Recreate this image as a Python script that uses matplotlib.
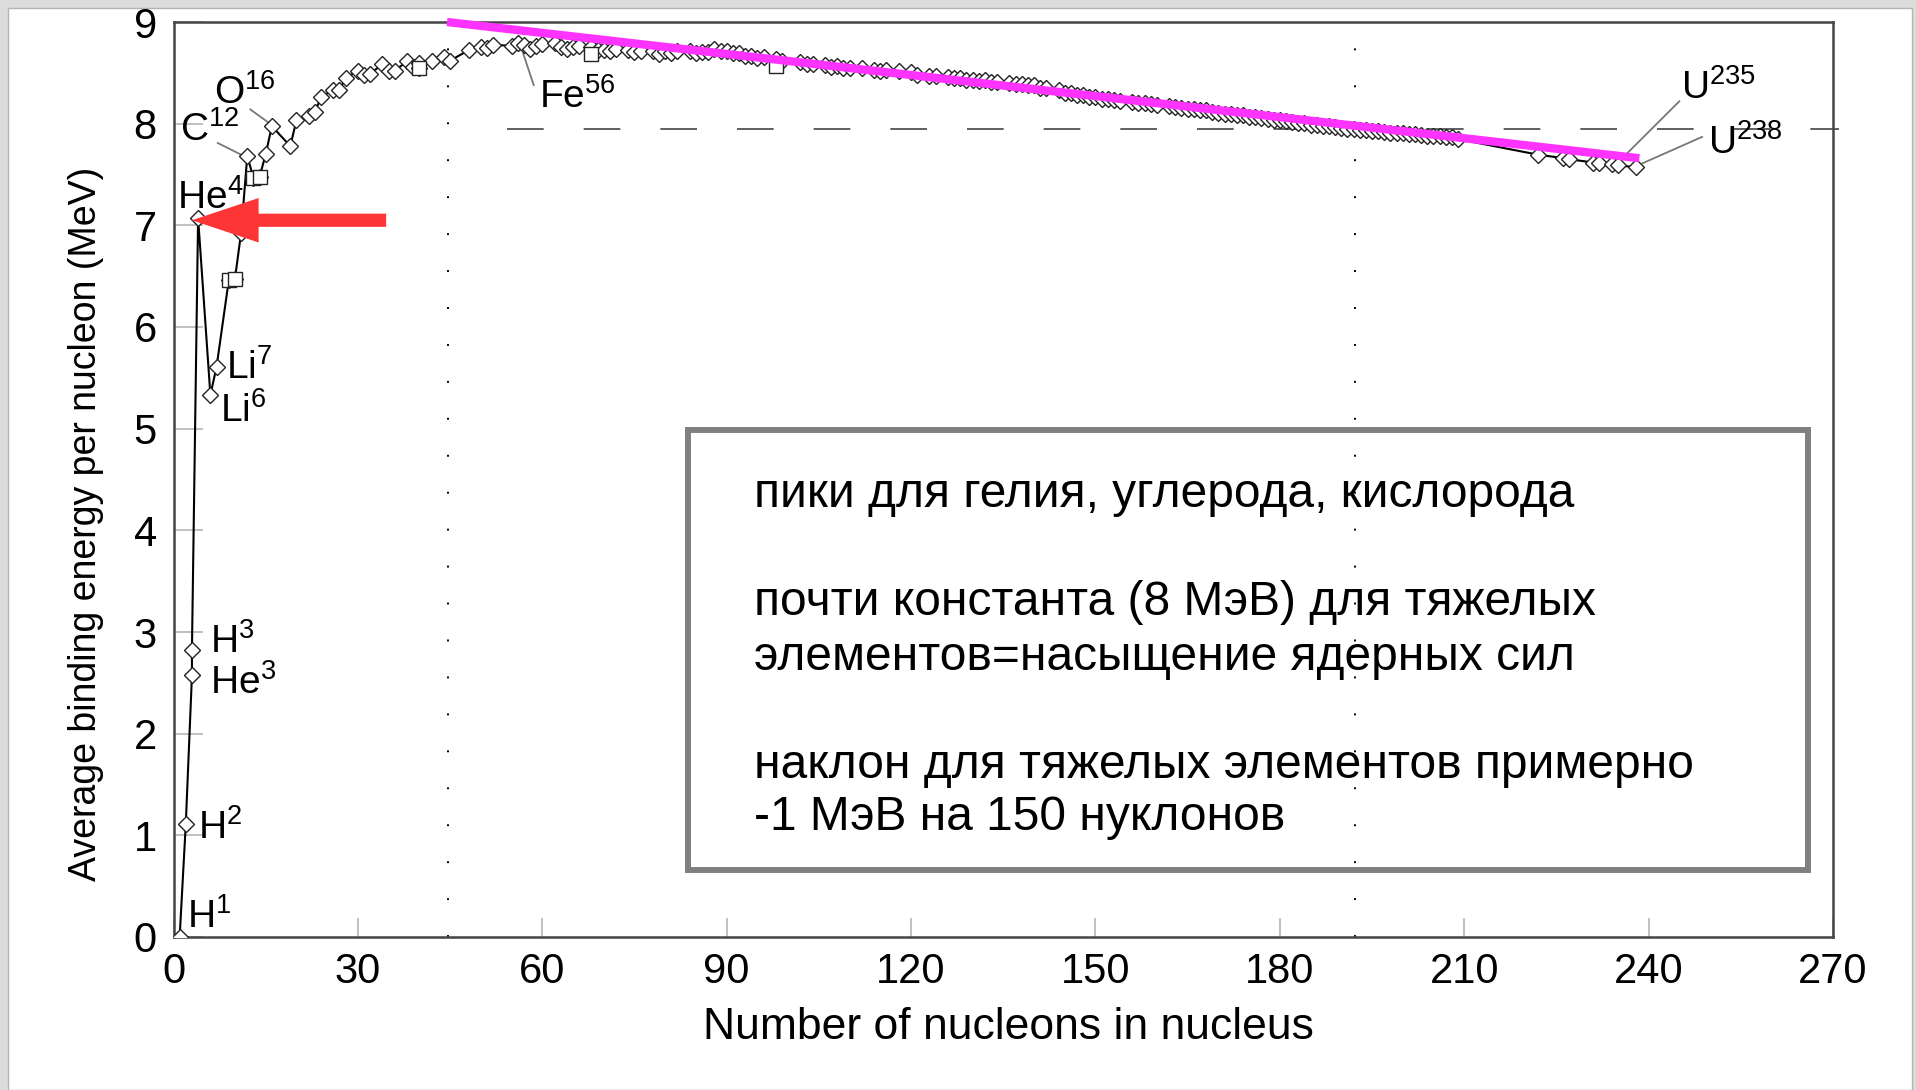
import matplotlib
matplotlib.use("Agg")
import matplotlib.pyplot as plt
from matplotlib.patches import Rectangle, FancyArrowPatch, ArrowStyle

plt.rcParams["font.family"] = ["Liberation Sans", "DejaVu Sans"]
plt.rcParams["mathtext.fontset"] = "custom"
plt.rcParams["mathtext.rm"] = "Liberation Sans"

# --- data: mass number A and average binding energy per nucleon (MeV) ---
mass_numbers = [1, 2, 3, 3, 4, 6, 7, 9, 10, 11, 12, 13, 14, 15, 16, 19, 20, 22,
                23, 24, 26, 27, 28, 30, 31, 32, 34, 35, 36, 38, 39, 40, 40, 42,
                44, 45, 48, 50, 51, 52, 55, 56, 57, 58, 59, 60, 62, 63, 64, 65,
                66, 68, 69, 70, 71, 72, 74, 75, 76, 78, 79, 80, 81, 82, 84, 85,
                86, 87, 88, 89, 90, 91, 92, 93, 94, 95, 96, 98, 99, 102, 103,
                104, 106, 107, 108, 109, 110, 112, 114, 115, 116, 118, 120, 121,
                123, 124, 126, 127, 128, 129, 130, 131, 132, 133, 134, 136, 137,
                138, 139, 140, 141, 142, 144, 145, 146, 147, 148, 149, 150, 151,
                152, 153, 154, 156, 157, 158, 159, 160, 162, 163, 164, 165, 166,
                167, 168, 169, 170, 171, 172, 173, 174, 175, 176, 177, 178, 179,
                180, 181, 182, 183, 184, 185, 186, 187, 188, 189, 190, 191, 192,
                193, 194, 195, 196, 197, 198, 199, 200, 201, 202, 203, 204, 205,
                206, 207, 208, 209, 222, 226, 227, 231, 232, 234, 235, 238]
binding_energy = [0.0, 1.112, 2.573, 2.827, 7.074, 5.332, 5.606, 6.463, 6.475,
                  6.928, 7.680, 7.470, 7.476, 7.699, 7.976, 7.779, 8.032, 8.080,
                  8.112, 8.261, 8.334, 8.332, 8.448, 8.521, 8.481, 8.493, 8.584,
                  8.520, 8.520, 8.614, 8.557, 8.551, 8.595, 8.617, 8.658, 8.619,
                  8.723, 8.756, 8.742, 8.776, 8.765, 8.790, 8.770, 8.732, 8.768,
                  8.781, 8.795, 8.752, 8.736, 8.757, 8.760, 8.756, 8.724, 8.722,
                  8.718, 8.732, 8.725, 8.701, 8.711, 8.718, 8.688, 8.711, 8.696,
                  8.711, 8.717, 8.698, 8.708, 8.705, 8.733, 8.714, 8.710, 8.693,
                  8.693, 8.664, 8.667, 8.649, 8.654, 8.635, 8.614, 8.607, 8.584,
                  8.587, 8.580, 8.554, 8.567, 8.548, 8.551, 8.545, 8.532, 8.517,
                  8.523, 8.517, 8.505, 8.482, 8.472, 8.473, 8.463, 8.445, 8.449,
                  8.431, 8.430, 8.424, 8.428, 8.410, 8.414, 8.403, 8.392, 8.393,
                  8.378, 8.376, 8.354, 8.346, 8.327, 8.303, 8.304, 8.281, 8.280,
                  8.263, 8.262, 8.239, 8.244, 8.229, 8.225, 8.215, 8.204, 8.202,
                  8.189, 8.184, 8.174, 8.162, 8.159, 8.147, 8.142, 8.132, 8.130,
                  8.115, 8.106, 8.098, 8.097, 8.087, 8.084, 8.069, 8.061, 8.052,
                  8.049, 8.039, 8.035, 8.023, 8.018, 8.008, 8.005, 7.991, 7.989,
                  7.974, 7.973, 7.963, 7.962, 7.948, 7.949, 7.938, 7.936, 7.927,
                  7.927, 7.916, 7.912, 7.905, 7.906, 7.897, 7.897, 7.886, 7.880,
                  7.878, 7.875, 7.870, 7.868, 7.848, 7.695, 7.662, 7.651, 7.618,
                  7.615, 7.600, 7.591, 7.570]
# points drawn as squares instead of diamonds
square_mass = [9, 10, 13, 14, 40, 68, 98]
square_energy = [6.463, 6.475, 7.470, 7.476, 8.551, 8.690, 8.570]

x_ticks = [0, 30, 60, 90, 120, 150, 180, 210, 240, 270]
y_ticks = [0, 1, 2, 3, 4, 5, 6, 7, 8, 9]

# isotope labels: text, text position, optional leader line target
iso_labels = [r"$\mathregular{H^1}$", r"$\mathregular{H^2}$", r"$\mathregular{H^3}$",
              r"$\mathregular{He^3}$", r"$\mathregular{He^4}$", r"$\mathregular{Li^7}$",
              r"$\mathregular{Li^6}$", r"$\mathregular{C^{12}}$", r"$\mathregular{O^{16}}$",
              r"$\mathregular{Fe^{56}}$", r"$\mathregular{U^{235}}$", r"$\mathregular{U^{238}}$"]
iso_text_x = [2.2, 4.0, 6.0, 6.0, 0.6, 8.5, 7.6, 1.0, 6.6, 59.4, 245.3, 249.7]
iso_text_y = [0.2, 1.07, 2.9, 2.5, 7.27, 5.6, 5.17, 7.94, 8.3, 8.26, 8.35, 7.81]
leader_from = [(7.2, 7.81), (12.5, 8.14), (56.9, 8.69), (245.0, 8.22), (248.7, 7.87)]
leader_to = [(11.5, 7.68), (15.7, 8.0), (58.6, 8.38), (236.2, 7.69), (239.0, 7.61)]

trend_x = [44.5, 238.5]
trend_y = [9.0, 7.66]

box_lines = ["пики для гелия, углерода, кислорода",
             "почти константа (8 МэВ) для тяжелых",
             "элементов=насыщение ядерных сил",
             "наклон для тяжелых элементов примерно",
             "-1 МэВ на 150 нуклонов"]
box_line_y = [4.35, 3.29, 2.75, 1.69, 1.175]

fig = plt.figure(figsize=(19.16, 10.90), dpi=100)
fig.patch.set_facecolor("#dcdcdc")
fig.add_artist(Rectangle((8 / 1916, 0), 1904 / 1916, 1082 / 1090,
                         transform=fig.transFigure, facecolor="white",
                         edgecolor="#b4b4b4", lw=1, zorder=-10))

ax = fig.add_axes([173.5 / 1916, 1 - 937 / 1090, 1659.5 / 1916, 915 / 1090])
ax.set_facecolor("white")
ax.set_xlim(0, 270)
ax.set_ylim(0, 9)

for s in ax.spines.values():
    s.set_color("#444444")
    s.set_linewidth(1.8)

ax.set_xticks(x_ticks)
ax.set_yticks(y_ticks)
ax.tick_params(axis="x", direction="in", length=14, width=1.4, color="#c0c0c0",
               labelsize=30, pad=11)
ax.tick_params(axis="y", direction="in", length=21, width=1.4, color="#c0c0c0",
               labelsize=30, pad=12)
ax.set_xlabel("Number of nucleons in nucleus", fontsize=32)
ax.set_ylabel("Average binding energy per nucleon (MeV)", fontsize=27)
ax.xaxis.set_label_coords(0.503, -0.077)
ax.yaxis.set_label_coords(-0.042, 0.452)

# dotted vertical guides and dashed 8 MeV line
for xv in [44.7, 192.2]:
    ax.axvline(xv, color="black", lw=1.4, linestyle=(0, (1, 18)), zorder=1)
ax.plot([54.3, 271], [7.95, 7.95], color="#444444", lw=1.2,
        linestyle=(0, (22, 24)), clip_on=False, zorder=1)

# binding energy curve
ax.plot(mass_numbers, binding_energy, color="black", lw=1.5, zorder=3)
ax.plot(mass_numbers, binding_energy, linestyle="none", marker="D", ms=8,
        mfc="white", mec="#222222", mew=1.0, zorder=4)
ax.plot(square_mass, square_energy, linestyle="none", marker="s", ms=10,
        mfc="white", mec="#222222", mew=1.0, zorder=5)

for (x0, y0), (x1, y1) in zip(leader_from, leader_to):
    ax.plot([x0, x1], [y0, y1], color="#777777", lw=1.3, zorder=2, clip_on=False)
for lab, tx, ty in zip(iso_labels, iso_text_x, iso_text_y):
    ax.text(tx, ty, lab, fontsize=28, ha="left", va="center", zorder=6)

# magenta trend line
ax.plot(trend_x, trend_y, color="#ff33ff", lw=6, solid_capstyle="butt",
        clip_on=False, zorder=7)

# red arrow pointing at He-4
arrow = FancyArrowPatch((34.6, 7.05), (3.0, 7.05),
                        arrowstyle=ArrowStyle.Simple(head_length=48, head_width=32,
                                                     tail_width=9.5),
                        mutation_scale=1, color="#fe3535", lw=0,
                        shrinkA=0, shrinkB=0, zorder=8)
ax.add_patch(arrow)

# comment box
ax.add_patch(Rectangle((83.7, 0.66), 266.0 - 83.7, 4.99 - 0.66, facecolor="none",
                       edgecolor="#808080", lw=4.3, zorder=8))
for line, ly in zip(box_lines, box_line_y):
    ax.text(94.4, ly, line, fontsize=34.5, ha="left", va="center", zorder=9)

fig.savefig("out.png", dpi=100, facecolor=fig.get_facecolor())
